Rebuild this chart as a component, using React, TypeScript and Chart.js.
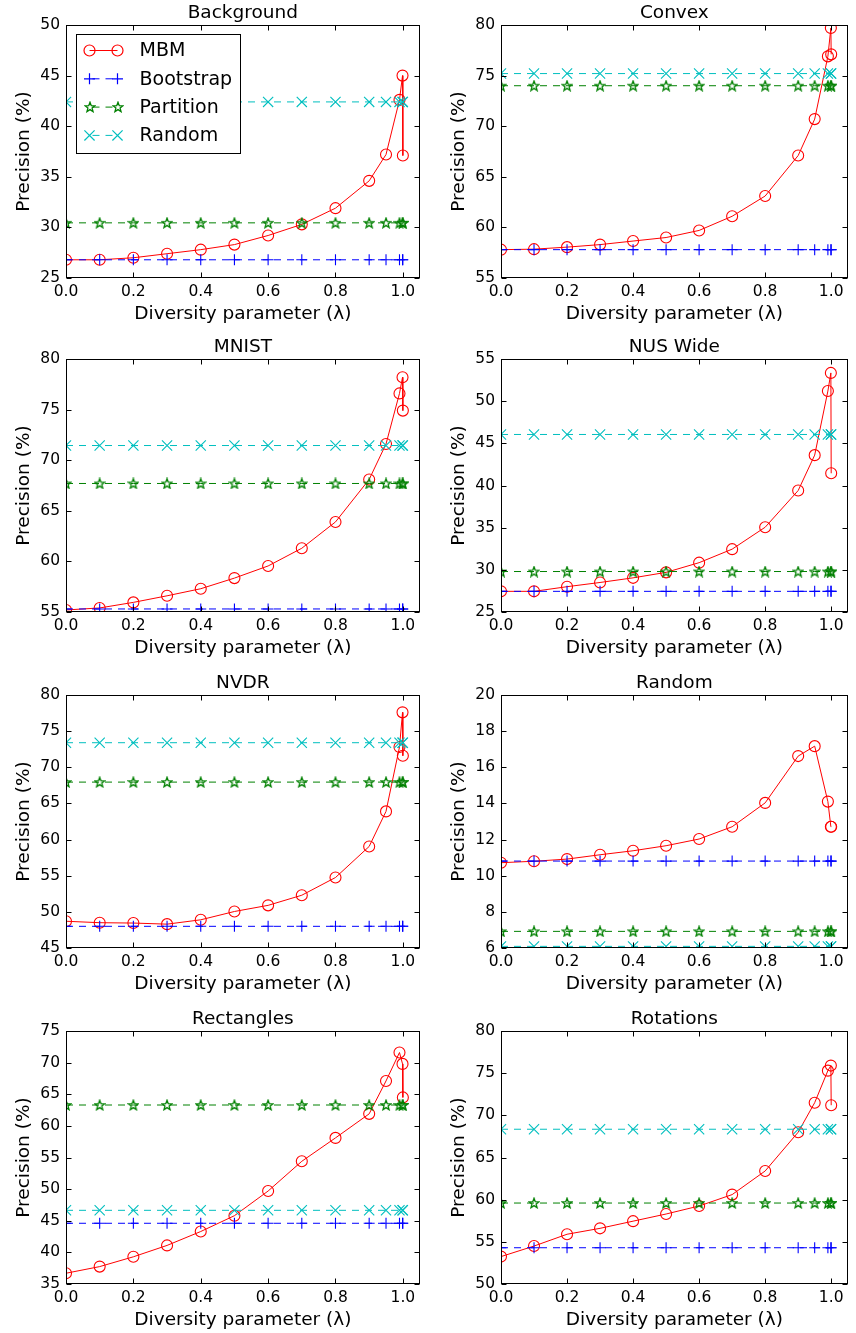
import React, { useEffect, useRef } from 'react';
import { Chart, registerables } from 'chart.js';

Chart.register(...registerables);

// ---------------- DATA ----------------
const lambdas = [0, 0.1, 0.2, 0.3, 0.4, 0.5, 0.6, 0.7, 0.8, 0.9, 0.95, 0.99, 0.999, 1.0];
const xTickValues = [0, 0.2, 0.4, 0.6, 0.8, 1.0];
const seriesNames = ['MBM', 'Bootstrap', 'Partition', 'Random'];
const panelTitles = ['Background', 'Convex', 'MNIST', 'NUS Wide', 'NVDR', 'Random', 'Rectangles', 'Rotations'];
const yMins = [25, 55, 55, 25, 45, 6, 35, 50];
const yMaxs = [50, 80, 80, 55, 80, 20, 75, 80];
const ySteps = [5, 5, 5, 5, 5, 2, 5, 5];

// Background
const bgMBM = [26.8, 26.8, 27.0, 27.4, 27.8, 28.3, 29.2, 30.3, 31.9, 34.6, 37.2, 42.6, 45.0, 37.1];
const bgBootstrap = [26.8, 26.8, 26.8, 26.8, 26.8, 26.8, 26.8, 26.8, 26.8, 26.8, 26.8, 26.8, 26.8, 26.8];
const bgPartition = [30.45, 30.45, 30.45, 30.45, 30.45, 30.45, 30.45, 30.45, 30.45, 30.45, 30.45, 30.45, 30.45, 30.45];
const bgRandom = [42.4, 42.4, 42.4, 42.4, 42.4, 42.4, 42.4, 42.4, 42.4, 42.4, 42.4, 42.4, 42.4, 42.4];
// Convex
const cvMBM = [57.8, 57.85, 58.05, 58.3, 58.65, 59.0, 59.7, 61.1, 63.1, 67.1, 70.7, 76.9, 79.7, 77.1];
const cvBootstrap = [57.8, 57.8, 57.8, 57.8, 57.8, 57.8, 57.8, 57.8, 57.8, 57.8, 57.8, 57.8, 57.8, 57.8];
const cvPartition = [74.0, 74.0, 74.0, 74.0, 74.0, 74.0, 74.0, 74.0, 74.0, 74.0, 74.0, 74.0, 74.0, 74.0];
const cvRandom = [75.2, 75.2, 75.2, 75.2, 75.2, 75.2, 75.2, 75.2, 75.2, 75.2, 75.2, 75.2, 75.2, 75.2];
// MNIST
const mnMBM = [55.2, 55.4, 55.95, 56.6, 57.3, 58.35, 59.55, 61.3, 63.9, 68.1, 71.6, 76.6, 78.2, 74.9];
const mnBootstrap = [55.3, 55.3, 55.3, 55.3, 55.3, 55.3, 55.3, 55.3, 55.3, 55.3, 55.3, 55.3, 55.3, 55.3];
const mnPartition = [67.7, 67.7, 67.7, 67.7, 67.7, 67.7, 67.7, 67.7, 67.7, 67.7, 67.7, 67.7, 67.7, 67.7];
const mnRandom = [71.45, 71.45, 71.45, 71.45, 71.45, 71.45, 71.45, 71.45, 71.45, 71.45, 71.45, 71.45, 71.45, 71.45];
// NUS Wide
const nusMBM = [27.45, 27.45, 28.0, 28.5, 29.05, 29.7, 30.85, 32.45, 35.05, 39.4, 43.6, 51.2, 53.35, 41.45];
const nusBootstrap = [27.45, 27.45, 27.45, 27.45, 27.45, 27.45, 27.45, 27.45, 27.45, 27.45, 27.45, 27.45, 27.45, 27.45];
const nusPartition = [29.8, 29.8, 29.8, 29.8, 29.8, 29.8, 29.8, 29.8, 29.8, 29.8, 29.8, 29.8, 29.8, 29.8];
const nusRandom = [46.05, 46.05, 46.05, 46.05, 46.05, 46.05, 46.05, 46.05, 46.05, 46.05, 46.05, 46.05, 46.05, 46.05];
// NVDR
const nvMBM = [48.7, 48.5, 48.45, 48.3, 48.9, 50.05, 50.9, 52.3, 54.75, 59.05, 63.9, 72.8, 77.6, 71.6];
const nvBootstrap = [48.0, 48.0, 48.0, 48.0, 48.0, 48.0, 48.0, 48.0, 48.0, 48.0, 48.0, 48.0, 48.0, 48.0];
const nvPartition = [67.95, 67.95, 67.95, 67.95, 67.95, 67.95, 67.95, 67.95, 67.95, 67.95, 67.95, 67.95, 67.95, 67.95];
const nvRandom = [73.4, 73.4, 73.4, 73.4, 73.4, 73.4, 73.4, 73.4, 73.4, 73.4, 73.4, 73.4, 73.4, 73.4];
// Random
const rnMBM = [10.72, 10.8, 10.92, 11.16, 11.38, 11.66, 12.03, 12.71, 14.03, 16.62, 17.17, 14.1, 12.71, 12.71];
const rnBootstrap = [10.81, 10.81, 10.81, 10.81, 10.81, 10.81, 10.81, 10.81, 10.81, 10.81, 10.81, 10.81, 10.81, 10.81];
const rnPartition = [6.92, 6.92, 6.92, 6.92, 6.92, 6.92, 6.92, 6.92, 6.92, 6.92, 6.92, 6.92, 6.92, 6.92];
const rnRandom = [6.09, 6.09, 6.09, 6.09, 6.09, 6.09, 6.09, 6.09, 6.09, 6.09, 6.09, 6.09, 6.09, 6.09];
// Rectangles
const reMBM = [36.7, 37.75, 39.3, 41.1, 43.3, 45.8, 49.7, 54.4, 58.1, 61.9, 67.1, 71.6, 69.8, 64.5];
const reBootstrap = [44.6, 44.6, 44.6, 44.6, 44.6, 44.6, 44.6, 44.6, 44.6, 44.6, 44.6, 44.6, 44.6, 44.6];
const rePartition = [63.3, 63.3, 63.3, 63.3, 63.3, 63.3, 63.3, 63.3, 63.3, 63.3, 63.3, 63.3, 63.3, 63.3];
const reRandom = [46.65, 46.65, 46.65, 46.65, 46.65, 46.65, 46.65, 46.65, 46.65, 46.65, 46.65, 46.65, 46.65, 46.65];
// Rotations
const roMBM = [53.25, 54.5, 55.9, 56.6, 57.45, 58.3, 59.25, 60.6, 63.4, 68.0, 71.5, 75.3, 75.9, 71.2];
const roBootstrap = [54.3, 54.3, 54.3, 54.3, 54.3, 54.3, 54.3, 54.3, 54.3, 54.3, 54.3, 54.3, 54.3, 54.3];
const roPartition = [59.6, 59.6, 59.6, 59.6, 59.6, 59.6, 59.6, 59.6, 59.6, 59.6, 59.6, 59.6, 59.6, 59.6];
const roRandom = [68.35, 68.35, 68.35, 68.35, 68.35, 68.35, 68.35, 68.35, 68.35, 68.35, 68.35, 68.35, 68.35, 68.35];

const mbmSeries = [bgMBM, cvMBM, mnMBM, nusMBM, nvMBM, rnMBM, reMBM, roMBM];
const bootstrapSeries = [bgBootstrap, cvBootstrap, mnBootstrap, nusBootstrap, nvBootstrap, rnBootstrap, reBootstrap, roBootstrap];
const partitionSeries = [bgPartition, cvPartition, mnPartition, nusPartition, nvPartition, rnPartition, rePartition, roPartition];
const randomSeries = [bgRandom, cvRandom, mnRandom, nusRandom, nvRandom, rnRandom, reRandom, roRandom];

// ---------------- STYLE ----------------
const FONT = "'DejaVu Sans', 'Liberation Sans', sans-serif";
const COLORS = ['#ff0000', '#0000ff', '#008000', '#00bfbf'];
const ROW_TOPS = [0, 334, 670, 1006];
const CANVAS_H = 325;

Chart.defaults.font.family = FONT;
Chart.defaults.color = '#000';

function makeStar(color: string): HTMLCanvasElement {
  const c = document.createElement('canvas');
  c.width = 12;
  c.height = 12;
  const ctx = c.getContext('2d')!;
  const cx = 6, cy = 6.4, ro = 5.2, ri = 2.2;
  ctx.beginPath();
  for (let i = 0; i < 10; i++) {
    const r = i % 2 === 0 ? ro : ri;
    const ang = -Math.PI / 2 + (i * Math.PI) / 5;
    const px = cx + r * Math.cos(ang);
    const py = cy + r * Math.sin(ang);
    if (i === 0) ctx.moveTo(px, py);
    else ctx.lineTo(px, py);
  }
  ctx.closePath();
  ctx.strokeStyle = color;
  ctx.lineWidth = 1.3;
  ctx.stroke();
  return c;
}

function drawMarker(ctx: CanvasRenderingContext2D, style: any, x: number, y: number, r: number, color: string) {
  ctx.save();
  ctx.setLineDash([]);
  ctx.strokeStyle = color;
  ctx.lineWidth = 1.2;
  ctx.beginPath();
  if (style === 'circle') {
    ctx.arc(x, y, r, 0, Math.PI * 2);
    ctx.stroke();
  } else if (style === 'cross') {
    ctx.moveTo(x - r, y);
    ctx.lineTo(x + r, y);
    ctx.moveTo(x, y - r);
    ctx.lineTo(x, y + r);
    ctx.stroke();
  } else if (style === 'crossRot') {
    const d = r * Math.SQRT1_2;
    ctx.moveTo(x - d, y - d);
    ctx.lineTo(x + d, y + d);
    ctx.moveTo(x + d, y - d);
    ctx.lineTo(x - d, y + d);
    ctx.stroke();
  } else if (style && typeof style === 'object') {
    ctx.drawImage(style, Math.round(x - style.width / 2), Math.round(y - style.height / 2));
  }
  ctx.restore();
}

const framePlugin = {
  id: 'frame',
  afterDraw(chart: any) {
    const { ctx, chartArea: a, scales } = chart;
    const L = Math.round(a.left) + 0.5;
    const R = Math.round(a.right) - 0.5;
    const T = Math.round(a.top) + 0.5;
    const B = Math.round(a.bottom) - 0.5;
    ctx.save();
    ctx.setLineDash([]);
    ctx.strokeStyle = '#000';
    ctx.lineWidth = 1;
    ctx.strokeRect(L, T, R - L, B - T);
    const len = 5;
    ctx.beginPath();
    for (const t of scales.x.ticks) {
      const px = Math.round(scales.x.getPixelForValue(t.value)) + 0.5;
      ctx.moveTo(px, B);
      ctx.lineTo(px, B - len);
      ctx.moveTo(px, T);
      ctx.lineTo(px, T + len);
    }
    for (const t of scales.y.ticks) {
      const py = Math.round(scales.y.getPixelForValue(t.value)) + 0.5;
      ctx.moveTo(L, py);
      ctx.lineTo(L + len, py);
      ctx.moveTo(R, py);
      ctx.lineTo(R - len, py);
    }
    ctx.stroke();
    ctx.restore();
  },
};

const titlePlugin = {
  id: 'panelTitle',
  afterDraw(chart: any, _args: any, opts: any) {
    const { ctx, chartArea: a } = chart;
    ctx.save();
    ctx.fillStyle = '#000';
    ctx.font = `18.5px ${FONT}`;
    ctx.textAlign = 'center';
    ctx.textBaseline = 'alphabetic';
    ctx.fillText(opts.text, (a.left + a.right) / 2, a.top - 7);
    ctx.restore();
  },
};

const legendPlugin = {
  id: 'panelLegend',
  afterDraw(chart: any, _args: any, opts: any) {
    if (!opts.show) return;
    const { ctx, chartArea: a } = chart;
    const datasets = chart.data.datasets;
    ctx.save();
    ctx.font = `19px ${FONT}`;
    let maxW = 0;
    for (const ds of datasets) maxW = Math.max(maxW, ctx.measureText(ds.label).width);
    const x0 = Math.round(a.left + 10) + 0.5;
    const y0 = Math.round(a.top + 9) + 0.5;
    const w = Math.round(63 + maxW + 8);
    const rowH = 28.3;
    const h = 119;
    ctx.fillStyle = '#fff';
    ctx.fillRect(x0, y0, w, h);
    ctx.strokeStyle = '#000';
    ctx.lineWidth = 1;
    ctx.strokeRect(x0, y0, w, h);
    datasets.forEach((ds: any, k: number) => {
      const cy = y0 + 16 + k * rowH;
      const xa = x0 + 13, xb = x0 + 41;
      ctx.save();
      ctx.strokeStyle = ds.borderColor;
      ctx.lineWidth = 1;
      ctx.setLineDash(ds.borderDash || []);
      ctx.lineDashOffset = -3;
      ctx.beginPath();
      ctx.moveTo(xa, cy);
      ctx.lineTo(xb, cy);
      ctx.stroke();
      ctx.restore();
      drawMarker(ctx, ds.pointStyle, xa, cy, ds.legendMarkerSize, ds.borderColor);
      drawMarker(ctx, ds.pointStyle, xb, cy, ds.legendMarkerSize, ds.borderColor);
      ctx.fillStyle = '#000';
      ctx.textAlign = 'left';
      ctx.textBaseline = 'middle';
      ctx.fillText(ds.label, x0 + 63, cy + 1);
    });
    ctx.restore();
  },
};

function Panel({ index }: { index: number }) {
  const ref = useRef<HTMLCanvasElement>(null);
  const col = index % 2;
  const row = Math.floor(index / 2);
  const width = col === 0 ? 428 : 426;
  const left = col === 0 ? 0 : 430;
  const top = ROW_TOPS[row];

  useEffect(() => {
    const canvas = ref.current;
    if (!canvas) return;
    const star = makeStar(COLORS[2]);
    const series = [mbmSeries[index], bootstrapSeries[index], partitionSeries[index], randomSeries[index]];
    const styles: any[] = ['circle', 'cross', star, 'crossRot'];
    const radii = [5.5, 5.5, 5, 7.2];
    const datasets = series.map((vals, k) => ({
      label: seriesNames[k],
      data: lambdas.map((x, i) => ({ x, y: vals[i] })),
      borderColor: COLORS[k],
      borderWidth: 1,
      borderDash: k === 0 ? [] : [7, 6],
      pointStyle: styles[k],
      pointRadius: radii[k],
      legendMarkerSize: radii[k],
      pointBorderColor: COLORS[k],
      pointBackgroundColor: 'rgba(0,0,0,0)',
      pointBorderWidth: 1.1,
      tension: 0,
      fill: false,
      clip: 0,
      order: 4 - k,
    }));

    const chart = new Chart(canvas, {
      type: 'line',
      data: { datasets } as any,
      options: {
        responsive: false,
        animation: false,
        devicePixelRatio: 1,
        events: [],
        layout: { padding: { top: 25, right: col === 0 ? 6 : 1, left: 0, bottom: 0 } },
        scales: {
          x: {
            type: 'linear',
            min: 0,
            max: 1.05,
            grid: { display: false, drawTicks: false },
            border: { display: false },
            afterBuildTicks: (s: any) => {
              s.ticks = xTickValues.map((v) => ({ value: v }));
            },
            afterFit: (s: any) => {
              s.height = 47;
            },
            ticks: {
              padding: 5,
              color: '#000',
              autoSkip: false,
              maxRotation: 0,
              font: { size: 15.5, family: FONT },
              callback: (v: any) => Number(v).toFixed(1),
            },
            title: {
              display: true,
              text: 'Diversity parameter (λ)',
              color: '#000',
              font: { size: 18.5, family: FONT },
              padding: { top: 0, bottom: 0 },
            },
          },
          y: {
            type: 'linear',
            min: yMins[index],
            max: yMaxs[index],
            grid: { display: false, drawTicks: false },
            border: { display: false },
            afterFit: (s: any) => {
              s.width = col === 0 ? 66 : 71;
            },
            ticks: {
              stepSize: ySteps[index],
              padding: 6,
              color: '#000',
              font: { size: 15.5, family: FONT },
              callback: (v: any) => String(v),
            },
            title: {
              display: true,
              text: 'Precision (%)',
              color: '#000',
              font: { size: 18.5, family: FONT },
              padding: { top: col === 0 ? 13 : 18, bottom: 0 },
            },
          },
        },
        plugins: {
          legend: { display: false },
          tooltip: { enabled: false },
          panelTitle: { text: panelTitles[index] },
          panelLegend: { show: index === 0 },
        } as any,
      },
      plugins: [framePlugin, titlePlugin, legendPlugin],
    } as any);
    return () => chart.destroy();
  }, [index]);

  return (
    <canvas
      ref={ref}
      width={width}
      height={CANVAS_H}
      style={{ position: 'absolute', left, top, width, height: CANVAS_H }}
    />
  );
}

export default function App() {
  return (
    <div style={{ position: 'absolute', left: 0, top: 0, width: 856, height: 1333, background: '#fff' }}>
      {panelTitles.map((t, i) => (
        <Panel key={t + i} index={i} />
      ))}
    </div>
  );
}
